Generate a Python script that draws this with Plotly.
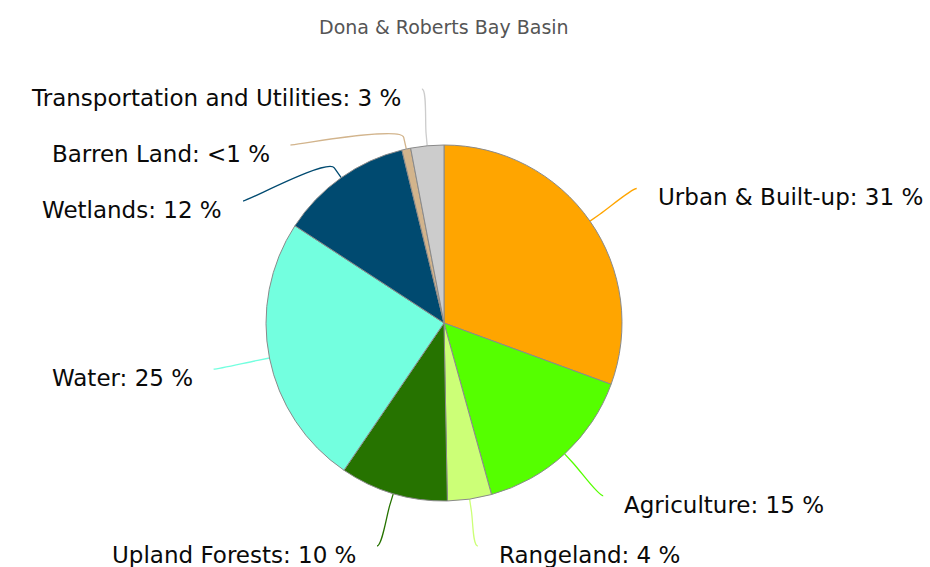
import math
import plotly.graph_objects as go

# ---- data ----
categories = ["Urban & Built-up", "Agriculture", "Rangeland", "Upland Forests",
              "Water", "Wetlands", "Barren Land", "Transportation and Utilities"]
shares = [30.6, 15.1, 4.0, 9.8, 24.7, 12.0, 0.8, 3.0]
share_labels = ["31 %", "15 %", "4 %", "10 %", "25 %", "12 %", "<1 %", "3 %"]
colors = ["#FFA500", "#55FF00", "#CCFF77", "#267300",
          "#73FFDF", "#004A70", "#D2B48C", "#CCCCCC"]
title_text = "Dona & Roberts Bay Basin"

# ---- layout constants (pixels) ----
W, H = 930, 567
CX, CY, R = 444, 323, 178
LABEL_R = 235
BREAK = 12
MIN_GAP = 56
TEXT_GAP = 19
Y_MAX = H - 21
FONT = "DejaVu Sans"

fig = go.Figure()
fig.add_trace(go.Pie(
    labels=categories, values=shares, sort=False, direction="clockwise",
    rotation=0, textinfo="none", hoverinfo="label+percent",
    marker=dict(colors=colors, line=dict(color="#8a8a8a", width=1)),
    domain=dict(x=[(CX - R) / W, (CX + R) / W],
                y=[(H - CY - R) / H, (H - CY + R) / H]),
    showlegend=False,
))

total = sum(shares)
cum = 0.0
items = []
for cat, v, lab, col in zip(categories, shares, share_labels, colors):
    th = 2 * math.pi * (cum + v / 2) / total
    cum += v
    s, c = math.sin(th), math.cos(th)
    items.append(dict(
        text=f"{cat}: {lab}", color=col, side=1 if s >= 0 else -1,
        edge=(CX + R * s, CY - R * c),
        brk=(CX + (R + BREAK) * s, CY - (R + BREAK) * c),
        ctl=(CX + (R + 2 * BREAK) * s, CY - (R + 2 * BREAK) * c),
        y=CY - LABEL_R * c,
    ))

# resolve overlaps per side; x follows the unclamped position
for side in (1, -1):
    grp = sorted([it for it in items if it["side"] == side], key=lambda d: d["y"])
    for i in range(1, len(grp)):
        grp[i]["y"] = max(grp[i]["y"], grp[i - 1]["y"] + MIN_GAP)
    for it in grp:
        dy = it["y"] - CY
        it["x"] = CX + side * math.sqrt(max(LABEL_R ** 2 - dy ** 2, 0))
        it["y"] = min(it["y"], Y_MAX)

shapes, annotations = [], []
for it in items:
    cx_, cy_ = it["x"], it["y"]
    path = (f"M {cx_:.1f} {cy_:.1f} C {cx_ - 5 * it['side']:.1f} {cy_:.1f}, "
            f"{it['ctl'][0]:.1f} {it['ctl'][1]:.1f}, {it['brk'][0]:.1f} {it['brk'][1]:.1f} "
            f"L {it['edge'][0]:.1f} {it['edge'][1]:.1f}")
    shapes.append(dict(type="path", path=path, xref="x", yref="y",
                       line=dict(color=it["color"], width=1.3), layer="below"))
    annotations.append(dict(
        x=cx_ + it["side"] * TEXT_GAP, y=cy_ + 9, xref="x", yref="y",
        text=it["text"], showarrow=False,
        xanchor="left" if it["side"] > 0 else "right", yanchor="middle",
        font=dict(family=FONT, size=23, color="#0a0a0a"),
    ))

annotations.append(dict(x=CX, y=27, xref="x", yref="y", text=title_text,
                        showarrow=False, xanchor="center", yanchor="middle",
                        font=dict(family=FONT, size=19, color="#555555")))

fig.update_layout(
    width=W, height=H, margin=dict(l=0, r=0, t=0, b=0, pad=0),
    paper_bgcolor="white", plot_bgcolor="rgba(0,0,0,0)",
    xaxis=dict(range=[0, W], visible=False, fixedrange=True),
    yaxis=dict(range=[H, 0], visible=False, fixedrange=True),
    shapes=shapes, annotations=annotations, showlegend=False,
)

fig.write_html("out.html")
